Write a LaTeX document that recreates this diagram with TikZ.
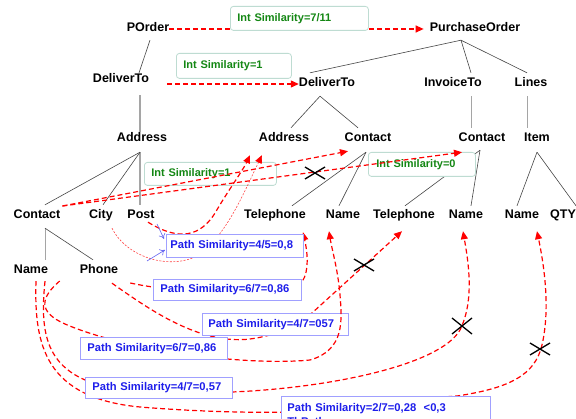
\documentclass[tikz,border=0pt]{standalone}
\usepackage{fontspec}
\setmainfont{Liberation Sans}
\usetikzlibrary{arrows.meta}
\definecolor{lblgreen}{RGB}{20,135,20}
\definecolor{lblgreenbd}{RGB}{190,220,210}
\definecolor{lblblue}{RGB}{30,30,235}
\definecolor{lblbluebd}{RGB}{160,160,255}
\definecolor{treeline}{RGB}{70,70,70}
\definecolor{treegray}{RGB}{165,165,165}
\definecolor{matchred}{RGB}{255,0,0}
\definecolor{thinred}{RGB}{255,70,70}
\tikzset{
  tn/.style={font=\fontsize{12.5}{15}\selectfont\bfseries, anchor=base, inner xsep=0pt, inner ysep=5pt, text height=9pt, text depth=3pt},
  tedge/.style={draw=treeline, line width=0.6pt},
  tgray/.style={draw=treegray, line width=1pt},
  tvert/.style={draw=treegray, line width=1.6pt},
  glabel/.style={draw=lblgreenbd, line width=0.8pt, rounded corners=3pt, fill=white, text=lblgreen, font=\fontsize{11}{13}\selectfont\bfseries, anchor=north west, align=left, inner ysep=0pt, text height=9pt, text depth=3pt},
  blabelbase/.style={draw=lblbluebd, line width=0.8pt, fill=white, text=lblblue, font=\fontsize{11.2}{14}\selectfont\bfseries, anchor=north west, align=left},
  blabel/.style={blabelbase, inner ysep=0pt, text height=9pt, text depth=3pt},
  match/.style={draw=matchred, line width=1.2pt, dash pattern=on 5pt off 3pt, -{Triangle[length=8pt,width=7pt]}},
  thinmatch/.style={draw=thinred, line width=0.6pt, dash pattern=on 2pt off 1.5pt, -{Triangle[length=8pt,width=7pt,color=matchred]}},
  bluearr/.style={draw=lblblue!70, line width=0.6pt, -{To[length=5pt,width=7pt]}},
  xmark/.style={draw=black, line width=1.3pt},
}
\begin{document}
\begin{tikzpicture}[x=1pt,y=-1pt]
\useasboundingbox (0,0) rectangle (576,419);
\fill[white] (0,0) rectangle (576,419);
\clip (0,0) rectangle (576,419);

% tree nodes
\node[tn] (porder) at (148,32) {POrder};
\node[tn] (po) at (475,32) {PurchaseOrder};
\node[tn] (dl) at (121,83) {DeliverTo};
\node[tn] (dr) at (327,87) {DeliverTo};
\node[tn] (inv) at (453,87) {InvoiceTo};
\node[tn] (lines) at (531,87) {Lines};
\node[tn] (addrL) at (142,142) {Address};
\node[tn] (addrR) at (284,142) {Address};
\node[tn] (ctD) at (368,142) {Contact};
\node[tn] (ctI) at (482,142) {Contact};
\node[tn] (item) at (537,142) {Item};
\node[tn] (ctL) at (37,219) {Contact};
\node[tn] (city) at (101,219) {City};
\node[tn] (post) at (141,219) {Post};
\node[tn] (tel1) at (275,219) {Telephone};
\node[tn] (name1) at (343,219) {Name};
\node[tn] (tel2) at (404,219) {Telephone};
\node[tn] (name2) at (466,219) {Name};
\node[tn] (name3) at (522,219) {Name};
\node[tn] (qty) at (563,219) {QTY};
\node[tn] (nameB) at (31,274) {Name};
\node[tn] (phone) at (99,274) {Phone};

% tree edges
\draw[tedge] ([shift={(2,0)}]porder.south) -- ([shift={(18,4)}]dl.north);
\draw[tvert] ([shift={(19,4)}]dl.south) -- ([shift={(-2,4)}]addrL.north);
\draw[tvert] ([shift={(-2,2)}]addrL.south) -- ([shift={(-1,0)}]post.north);
\draw[tedge] ([shift={(-2,2)}]addrL.south) -- ([shift={(8,0)}]ctL.north);
\draw[tedge] ([shift={(-2,2)}]addrL.south) -- ([shift={(2,0)}]city.north);
\draw[tedge] ([shift={(-14,0)}]po.south) -- ([shift={(-17,0)}]dr.north);
\draw[tedge] ([shift={(-14,0)}]po.south) -- ([shift={(18,0)}]inv.north);
\draw[tedge] ([shift={(-14,0)}]po.south) -- ([shift={(-4,0)}]lines.north);
\draw[tedge] ([shift={(-7,1)}]dr.south) -- ([shift={(7,0)}]addrR.north);
\draw[tedge] ([shift={(-7,1)}]dr.south) -- ([shift={(-10,0)}]ctD.north);
\draw[tgray] ([shift={(18,1)}]inv.south) -- ([shift={(-11,0)}]ctI.north);
\draw[tgray] ([shift={(-4,1)}]lines.south) -- ([shift={(-10,0)}]item.north);
\draw[tedge] ([shift={(-2,2)}]ctD.south) -- ([shift={(17,1)}]tel1.north);
\draw[tedge] ([shift={(-2,2)}]ctD.south) -- ([shift={(-4,1)}]name1.north);
\draw[tedge] ([shift={(-2,0)}]ctI.south) -- ([shift={(1,1)}]tel2.north);
\draw[tedge] ([shift={(-2,0)}]ctI.south) -- ([shift={(5,1)}]name2.north);
\draw[tedge] ([shift={(0,2)}]item.south) -- ([shift={(-5,1)}]name3.north);
\draw[tedge] ([shift={(0,2)}]item.south) -- ([shift={(13,1)}]qty.north);
\draw[tgray] ([shift={(8,1)}]ctL.south) -- ([shift={(14,0)}]nameB.north);
\draw[tedge] ([shift={(8,1)}]ctL.south) -- ([shift={(-6,0)}]phone.north);

% green labels under the lines
\node[glabel, inner xsep=7pt, text width=118pt, minimum height=23pt] (g3) at (144,162) {Int Similarity=1};
\node[glabel, inner xsep=8pt, text width=91pt, minimum height=24pt] (g4) at (368,152) {Int Similarity=0};

% matching lines
\draw[match] (porder.east) -- ([shift={(-6,0)}]po.west);
\draw[match] ([shift={(18,4)}]dl.east) -- (dr.west);
\draw[match] ([shift={(2,-10)}]ctL.east) -- ([shift={(-20,1)}]ctD.south);
\draw[match] ([shift={(2,-10)}]ctL.east) -- ([shift={(-20,2)}]ctI.south);
\draw[match] ([shift={(7,-5)}]post.south) .. controls (185,245) and (205,232) .. (218,208) .. controls (230,188) and (243,170) .. ([shift={(-34,5)}]addrR.south);
\draw[thinmatch] ([shift={(11,1)}]city.south) .. controls (125,255) and (165,270) .. (195,257) .. controls (225,240) and (245,190) .. ([shift={(-22,5)}]addrR.south);
\draw[match] ([shift={(12,12)}]phone.east) .. controls (190,296) and (290,296) .. (302,282) .. controls (310,270) and (307,250) .. ([shift={(28,5)}]tel1.south);
\draw[match] ([shift={(13,1)}]phone.south) .. controls (150,310) and (200,345) .. (250,339) .. controls (280,335) and (295,325) .. (312,313) -- ([shift={(-2,4)}]tel2.south);
\draw[match] ([shift={(14,-1)}]nameB.south) .. controls (40,330) and (45,365) .. (90,382) .. controls (150,400) and (200,393) .. (232,392) .. controls (330,388) and (440,365) .. (460,330) .. controls (475,300) and (468,260) .. ([shift={(-3,4)}]name2.south);
\draw[match] ([shift={(5,-1)}]nameB.south) .. controls (34,345) and (45,398) .. (140,407) .. controls (200,412) and (260,413) .. (300,412) .. controls (380,410) and (420,398) .. (457,396) .. controls (510,388) and (535,375) .. (542,345) .. controls (550,310) and (545,270) .. ([shift={(15,4)}]name3.south);

% labels over the lines
\node[glabel, inner xsep=7pt, text width=124pt, minimum height=24pt] (g1) at (230,6) {Int Similarity=7/11};
\node[glabel, inner xsep=7pt, text width=101pt, minimum height=25pt] (g2) at (176,53) {Int Similarity=1};
\node[blabel, inner xsep=4pt, text width=129pt, minimum height=23pt] (b1) at (166,234) {Path Similarity=4/5=0,8};
\node[blabel, inner xsep=7pt, text width=134pt, minimum height=21pt] (b2) at (153,279) {Path Similarity=6/7=0,86};
\node[blabel, inner xsep=6pt, text width=134pt, minimum height=22pt] (b3) at (202,313) {Path Similarity=4/7=057};
\node[blabel, inner xsep=7pt, text width=133pt, minimum height=21pt] (b5) at (85,377) {Path Similarity=4/7=0,57};
\node[blabelbase, inner xsep=6pt, inner ysep=7pt, text width=197pt] (b6) at (281,396) {Path Similarity=2/7=0,28~~<0,3\\ThPath};

\draw[match] ([shift={(-20,10)}]phone.west) .. controls (40,298) and (38,312) .. (65,324) .. controls (130,352) and (250,366) .. (310,360) .. controls (345,350) and (342,320) .. (340,295) .. controls (338,270) and (332,250) .. ([shift={(-14,4)}]name1.south);

\node[blabel, inner xsep=7pt, text width=133pt, minimum height=22pt] (b4) at (80,337) {Path Similarity=6/7=0,86};

% pointers to the label
\coordinate (pa1) at (157,224);
\coordinate (pa2) at (147,261);
\draw[bluearr] (pa1) -- ([shift={(-2,-7)}]b1.west);
\draw[bluearr] (pa2) -- ([shift={(-1,4)}]b1.west);

% rejection crosses
\draw[xmark] (305,167) -- (325,179) (305,179) -- (325,167);
\draw[xmark] (354,259) -- (374,271) (354,271) -- (374,259);
\draw[xmark] (452,318) -- (472,334) (452,334) -- (472,318);
\draw[xmark] (530,343) -- (550,355) (530,355) -- (550,343);
\end{tikzpicture}
\end{document}
